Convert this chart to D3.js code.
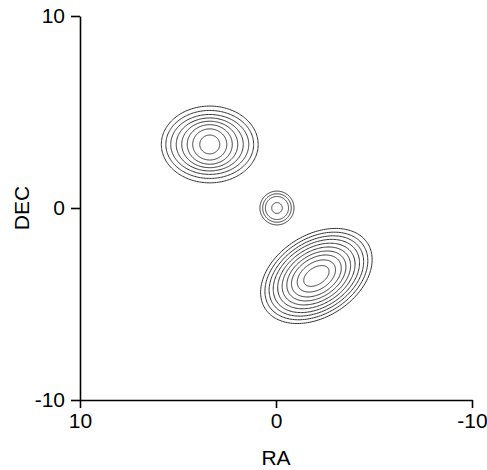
<!DOCTYPE html>
<html>
<head>
<meta charset="utf-8">
<script src="https://cdn.jsdelivr.net/npm/d3@7"></script>
<style>
  html, body { margin: 0; padding: 0; background: #fff; }
  svg { display: block; }
  text { font-family: "Liberation Sans", Arial, sans-serif; }
</style>
</head>
<body>
<svg id="chart" width="487" height="470"></svg>
<script>
// ---- data ----
const xTicks = [10, 0, -10];
const yTicks = [-10, 0, 10];
const xLabel = "RA";
const yLabel = "DEC";

// blob centers (RA, DEC) and ellipse rotation (degrees, in data space)
const blobNames = ["north-east", "centre", "south-west"];
const blobCenters = [[3.38, 3.31], [-0.05, 0.0], [-2.06, -3.54]];
const blobAngles = [0, 0, 146];
// contour ring semi-axes (data units), inner to outer
const blob1A = [0.51, 0.87, 1.15, 1.43, 1.71, 1.99, 2.24, 2.47];
const blob1B = [0.49, 0.81, 1.03, 1.21, 1.38, 1.56, 1.77, 2.00];
const blob2A = [0.27, 0.59, 0.73, 0.87];
const blob2B = [0.28, 0.60, 0.74, 0.88];
const blob3A = [0.72, 1.08, 1.40, 1.66, 1.92, 2.17, 2.42, 2.65, 2.88, 3.12];
const blob3B = [0.44, 0.70, 0.92, 1.10, 1.28, 1.45, 1.62, 1.78, 1.95, 2.12];
const ringA = [blob1A, blob2A, blob3A];
const ringB = [blob1B, blob2B, blob3B];

// ---- chart ----
const svg = d3.select("#chart");
const x = d3.scaleLinear().domain([10, -10]).range([80, 472]);
const y = d3.scaleLinear().domain([-10, 10]).range([400, 16]);

const line = d3.line().x(d => x(d[0])).y(d => y(d[1])).curve(d3.curveLinearClosed);
const steps = d3.range(0, 180).map(i => i / 180 * 2 * Math.PI);

const g = svg.append("g").attr("class", "contours");
blobCenters.forEach((c, bi) => {
  const th = blobAngles[bi] * Math.PI / 180;
  ringA[bi].forEach((a, ri) => {
    const b = ringB[bi][ri];
    const pts = steps.map(t => {
      const u = a * Math.cos(t), v = b * Math.sin(t);
      return [c[0] + u * Math.cos(th) - v * Math.sin(th),
              c[1] + u * Math.sin(th) + v * Math.cos(th)];
    });
    g.append("path")
      .attr("d", line(pts))
      .attr("fill", "none")
      .attr("stroke", "#333")
      .attr("stroke-width", 1);
  });
});

const fmt = d => String(d);
const xAxis = svg.append("g")
  .attr("transform", `translate(0,${y(-10)})`)
  .call(d3.axisBottom(x).tickValues(xTicks).tickFormat(fmt).tickSize(8).tickSizeOuter(0).tickPadding(5));
const yAxis = svg.append("g")
  .attr("transform", `translate(${x(10)},0)`)
  .call(d3.axisLeft(y).tickValues(yTicks).tickFormat(fmt).tickSize(9).tickSizeOuter(0).tickPadding(6));

[xAxis, yAxis].forEach(ax => {
  ax.selectAll("path.domain").attr("stroke", "#000").attr("stroke-width", 1.6);
  ax.selectAll(".tick line").attr("stroke", "#000").attr("stroke-width", 1.6);
  ax.selectAll(".tick text").attr("fill", "#000").style("font-size", "21px")
    .style("font-family", '"Liberation Sans", Arial, sans-serif');
});

svg.append("text")
  .attr("x", x(0)).attr("y", 465)
  .attr("text-anchor", "middle")
  .style("font-size", "21px")
  .text(xLabel);
svg.append("text")
  .attr("transform", `translate(29,${y(0)}) rotate(-90)`)
  .attr("text-anchor", "middle")
  .style("font-size", "21px")
  .text(yLabel);
</script>
</body>
</html>
